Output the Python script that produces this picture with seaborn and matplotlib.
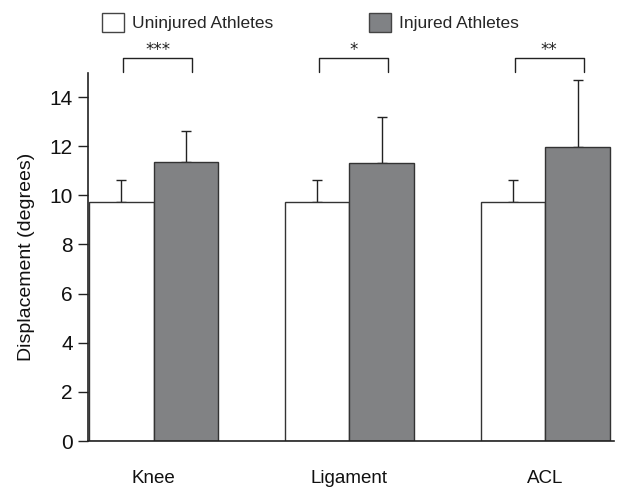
import matplotlib
matplotlib.use("Agg")
import matplotlib.pyplot as plt
import seaborn as sns
import pandas as pd
from matplotlib.patches import Patch

categories = ["Knee", "Ligament", "ACL"]
groups = ["Uninjured Athletes", "Injured Athletes"]
uninjured = [9.73, 9.73, 9.73]
injured = [11.36, 11.32, 11.98]
uninjured_err = [0.89, 0.89, 0.89]
injured_err = [1.25, 1.88, 2.72]
stars = ["***", "*", "**"]
yticks = [0, 2, 4, 6, 8, 10, 12, 14]

df = pd.DataFrame({
    "region": categories * 2,
    "group": [groups[0]] * 3 + [groups[1]] * 3,
    "value": uninjured + injured,
})

sns.set_theme(style="white")
plt.rcParams["font.family"] = ["Liberation Sans", "DejaVu Sans"]

fig = plt.figure(figsize=(6.17, 4.88), dpi=100)
ax = fig.add_axes([0.1426, 0.0963, 0.995 - 0.1426, 0.8514 - 0.0963])

colors = {groups[0]: "#ffffff", groups[1]: "#808285"}
sns.barplot(data=df, x="region", y="value", hue="group", hue_order=groups,
            order=categories, palette=colors, width=0.66, edgecolor="#333333",
            linewidth=1.0, errorbar=None, legend=False, ax=ax, zorder=2)

errs = [uninjured_err, injured_err]
bar_containers = list(ax.containers)[:2]
tops_by_cat = {}
for ci, cont in enumerate(bar_containers):
    for j, bar in enumerate(cont.patches):
        xc = bar.get_x() + bar.get_width() / 2
        h = bar.get_height()
        ax.errorbar(xc, h, yerr=[[0], [errs[ci][j]]], fmt="none", ecolor="#222222",
                    elinewidth=1.0, capsize=3.5, capthick=1.0, zorder=1)
        tops_by_cat.setdefault(j, []).append(xc)

ax.set_xlim(-0.335, 2.35)
ax.set_ylim(0, 15)
ax.set_yticks(yticks)
ax.tick_params(axis="y", labelsize=15, direction="out", length=7, width=1,
               color="#222222", left=True, pad=4, labelcolor="#111111")
ax.tick_params(axis="x", labelsize=13.5, length=0, pad=21, labelcolor="#111111")
ax.set_xlabel("")
ax.set_ylabel("Displacement (degrees)", fontsize=14, labelpad=10, color="#111111")
for s in ["top", "right"]:
    ax.spines[s].set_visible(False)
for s in ["left", "bottom"]:
    ax.spines[s].set_color("#222222")
    ax.spines[s].set_linewidth(1.2)

# significance brackets
for j in range(3):
    x0, x1 = tops_by_cat[j]
    x0 += 0.01
    x1 += 0.03
    yb, yt = 15.02, 15.58
    ax.plot([x0, x0, x1, x1], [yb, yt, yt, yb], color="#222222", lw=1.0, clip_on=False)
    ax.text((x0 + x1) / 2, yt - 0.02, stars[j], ha="center", va="bottom",
            fontsize=12, color="#222222", clip_on=False,
            family=["DejaVu Sans"])

handles = [Patch(facecolor=colors[g], edgecolor="#444444", linewidth=1.0) for g in groups]
fig.legend(handles, groups, loc="upper left", bbox_to_anchor=(0.165, 0.974), ncol=2,
           frameon=False, fontsize=12.5, handlelength=1.25, handleheight=1.3,
           handletextpad=0.5, columnspacing=5.5, borderaxespad=0, borderpad=0)

fig.savefig("out.png", dpi=100)
